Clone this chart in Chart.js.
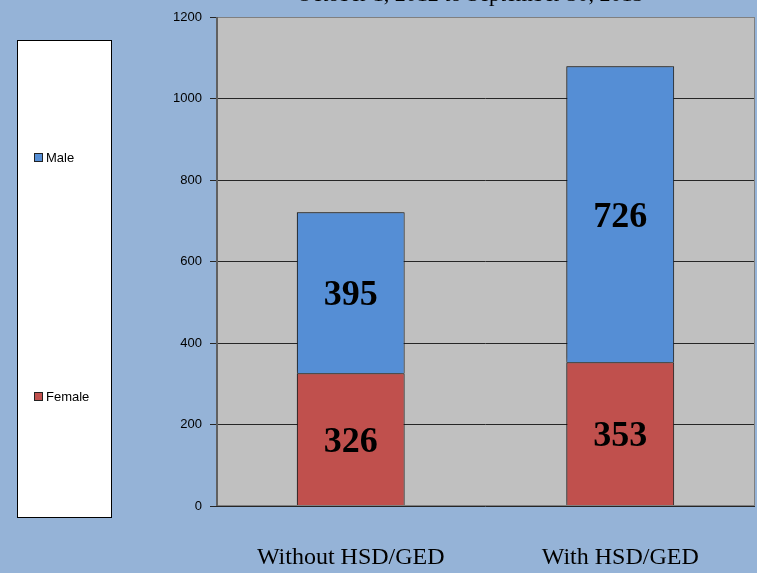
<!DOCTYPE html>
<html>
<head>
<meta charset="utf-8">
<script src="https://cdn.jsdelivr.net/npm/chart.js@4"></script>
<style>
html,body{margin:0;padding:0;background:#95b3d7;}
#wrap{width:757px;height:573px;position:relative;}
</style>
</head>
<body>
<div id="wrap"><canvas id="c" width="757" height="573"></canvas></div>
<script>
const categories = ["Without HSD/GED", "With HSD/GED"];
const femaleValues = [326, 353];
const maleValues = [395, 726];
const yTicks = [0, 200, 400, 600, 800, 1000, 1200];
const seriesNames = ["Female", "Male"];
const titleText = "October 1, 2012 to September 30, 2013";

const plotBg = {
  id: 'plotBg',
  beforeDraw(chart) {
    const {ctx, chartArea: a} = chart;
    ctx.save();
    ctx.fillStyle = '#c0c0c0';
    ctx.fillRect(a.left, a.top, a.right - a.left, a.bottom - a.top);
    ctx.restore();
  },
  afterDraw(chart) {
    const {ctx, chartArea: a} = chart;
    ctx.save();
    ctx.strokeStyle = '#808080';
    ctx.lineWidth = 1;
    ctx.strokeRect(a.left + 0.5, a.top + 0.5, a.right - a.left - 1, a.bottom - a.top - 1);
    ctx.strokeStyle = '#606060';
    ctx.lineWidth = 2;
    ctx.beginPath();
    ctx.moveTo(a.left + 1, a.top);
    ctx.lineTo(a.left + 1, a.bottom);
    ctx.stroke();
    // title (cut off at the top of the picture)
    ctx.fillStyle = '#000';
    ctx.font = '22px "Liberation Serif"';
    ctx.textAlign = 'center';
    ctx.textBaseline = 'alphabetic';
    ctx.fillText(titleText, 470, 1);
    // legend box
    ctx.fillStyle = '#ffffff';
    ctx.fillRect(17, 40, 94, 477);
    ctx.strokeStyle = '#000';
    ctx.lineWidth = 1;
    ctx.strokeRect(17.5, 40.5, 94, 477);
    const items = [
      {ds: chart.data.datasets[1], y: 158},
      {ds: chart.data.datasets[0], y: 397}
    ];
    ctx.font = '13px "Liberation Sans"';
    ctx.textAlign = 'left';
    ctx.textBaseline = 'middle';
    items.forEach(it => {
      ctx.fillStyle = it.ds.backgroundColor;
      ctx.fillRect(34.5, it.y - 4.5, 8, 8);
      ctx.strokeStyle = '#222';
      ctx.strokeRect(34.5, it.y - 4.5, 8, 8);
      ctx.fillStyle = '#000';
      ctx.fillText(it.ds.label, 46, it.y);
    });
    ctx.restore();
  }
};

const barLabels = {
  id: 'barLabels',
  afterDatasetsDraw(chart) {
    const {ctx} = chart;
    ctx.save();
    ctx.font = 'bold 36px "Liberation Serif"';
    ctx.fillStyle = '#000';
    ctx.textAlign = 'center';
    ctx.textBaseline = 'middle';
    chart.data.datasets.forEach((ds, di) => {
      const meta = chart.getDatasetMeta(di);
      meta.data.forEach((bar, i) => {
        const p = bar.getProps(['x', 'y', 'base'], true);
        ctx.fillText(String(ds.data[i]), p.x, (p.y + p.base) / 2 + 3);
      });
    });
    ctx.restore();
  }
};

const barShadow = {
  id: 'barShadow',
  beforeDatasetsDraw(chart) {
    chart.ctx.save();
    chart.ctx.shadowColor = 'rgba(0,0,0,0.35)';
    chart.ctx.shadowBlur = 4;
    chart.ctx.shadowOffsetX = -2;
    chart.ctx.shadowOffsetY = -1;
  },
  afterDatasetsDraw(chart) {
    chart.ctx.restore();
  }
};

new Chart(document.getElementById('c'), {
  type: 'bar',
  data: {
    labels: categories,
    datasets: [
      {label: seriesNames[0], data: femaleValues, backgroundColor: '#c0504d', borderColor: '#1a1a1a', borderWidth: 1, categoryPercentage: 1, barPercentage: 0.4},
      {label: seriesNames[1], data: maleValues, backgroundColor: '#558ed5', borderColor: '#1a1a1a', borderWidth: 1, categoryPercentage: 1, barPercentage: 0.4}
    ]
  },
  options: {
    responsive: false,
    animation: false,
    devicePixelRatio: 1,
    layout: {padding: {left: 150, right: 2, top: 17, bottom: 0}},
    plugins: {legend: {display: false}, tooltip: {enabled: false}, title: {display: false}},
    scales: {
      x: {
        stacked: true,
        grid: {display: false},
        border: {display: false},
        ticks: {color: '#000', font: {family: '"Liberation Serif"', size: 24}, padding: 29},
        afterFit(s) { s.height = 67; }
      },
      y: {
        stacked: true,
        min: 0, max: 1200,
        afterBuildTicks(s) { s.ticks = yTicks.map(v => ({value: v})); },
        grid: {color: '#262626', lineWidth: 1, drawTicks: true, tickLength: 6, tickColor: '#262626'},
        border: {display: false},
        ticks: {color: '#000', font: {family: '"Liberation Sans"', size: 13}, padding: 8, callback: v => String(v)},
        afterFit(s) { s.width = 66; }
      }
    }
  },
  plugins: [plotBg, barShadow, barLabels]
});
</script>
</body>
</html>
